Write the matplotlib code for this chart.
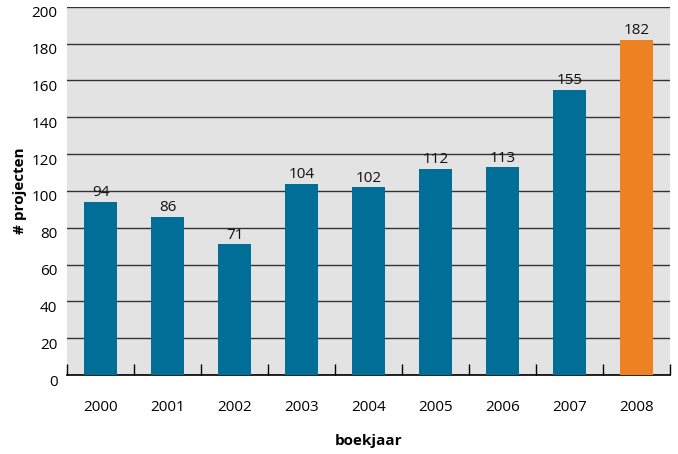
import matplotlib
matplotlib.use('Agg')
import matplotlib.pyplot as plt
import matplotlib.transforms as mtransforms
import numpy as np

years = ['2000', '2001', '2002', '2003', '2004', '2005', '2006', '2007', '2008']
projecten = [94, 86, 71, 104, 102, 112, 113, 155, 182]
bar_colors = ['#006e96'] * 8 + ['#ee8121']

plt.rcParams['font.family'] = ['Open Sans', 'DejaVu Sans']
plt.rcParams['text.color'] = '#111111'

fig = plt.figure(figsize=(6.78, 4.54), dpi=100)
ax = fig.add_axes([0.099, 0.174, 0.889, 0.811])
ax.set_facecolor('#e3e3e3')

x = np.arange(len(years))
ax.bar(x, projecten, width=0.5, color=bar_colors, zorder=3)

# value labels
for xi, v in zip(x, projecten):
    ax.text(xi, v + 0.8, str(v), ha='center', va='bottom', fontsize=11, zorder=4)

ax.set_xlim(-0.5, len(years) - 0.5)
ax.set_ylim(0, 200)
ax.set_yticks(np.arange(0, 201, 20))
ax.yaxis.grid(True, color='#333333', linewidth=1.0, zorder=1)
ax.tick_params(axis='y', length=0, pad=7, labelsize=11)
# labels sit a little below their grid line
shift = mtransforms.ScaledTranslation(0, -5 / 100, fig.dpi_scale_trans)
for lbl in ax.get_yticklabels():
    lbl.set_transform(lbl.get_transform() + shift)

# x ticks between categories, pointing up
ax.set_xticks(np.arange(-0.5, len(years), 1.0))
ax.set_xticklabels([])
ax.tick_params(axis='x', direction='in', length=8, width=1, color='black')
ax.set_xticks(x, minor=True)
ax.set_xticklabels(years, minor=True, fontsize=11)
ax.tick_params(axis='x', which='minor', length=0, pad=18)

for s in ['left', 'right', 'top']:
    ax.spines[s].set_visible(False)
ax.spines['bottom'].set_linewidth(1.2)

ax.set_xlabel('boekjaar', fontsize=11, fontweight='bold', labelpad=14)
ax.set_ylabel('# projecten', fontsize=11, fontweight='bold', labelpad=3)

fig.savefig('out.png', dpi=100)
